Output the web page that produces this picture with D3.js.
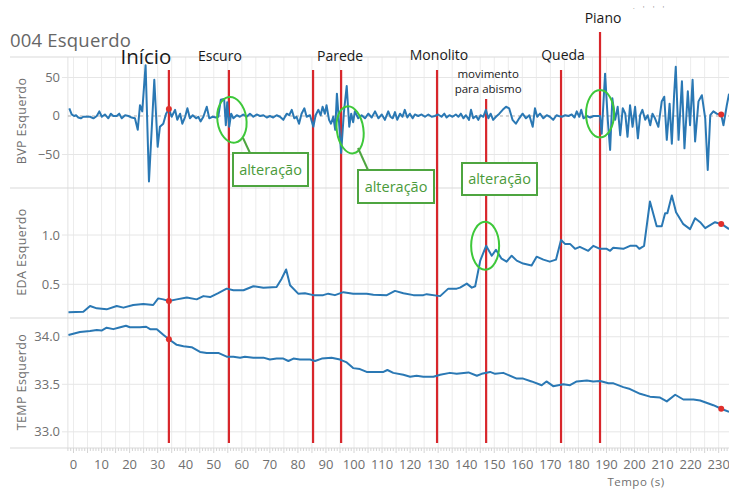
<!DOCTYPE html>
<html><head><meta charset="utf-8">
<script src="https://cdn.jsdelivr.net/npm/d3@7"></script>
<style>body{margin:0;background:#fff}svg{display:block}text{font-family:"Open Sans",sans-serif}</style>
</head><body><svg id="c" width="729" height="489"></svg>
<script>
// ---------------- DATA ----------------
const title = "004 Esquerdo";
const xTickValues = d3.range(0, 240, 10);
const bvpTicks = [50, 0, -50];
const edaTicks = [1.0, 0.5];
const tempTicks = [34.0, 33.5, 33.0];
const eventTimes = [34.0, 55.4, 85.4, 95.4, 129.6, 147.1, 173.8, 187.7];
const eventNames = ["Início", "Escuro", "", "Parede", "Monolito", "movimento|para abismo", "Queda", "Piano"];
const markerTimes = [34.0, 230.9];
const bvp = [[-1.5,10],[-0.65,2],[0.2,0],[0.9,1],[1.7,-2],[2.6,-3],[3.5,-1],[4.7,-1],[5.9,-1],[7.1,-3],[8.3,0],[9.2,6],[10.1,-1],[11.2,2],[12.4,-3],[13.3,3],[14.2,0],[15.4,0],[16.3,3],[17.2,-3],[18.4,1],[19.6,0],[20.7,-2],[21.9,-3],[22.9,-18],[23.7,14],[24.5,6],[25.7,66],[26.9,-85],[28.8,47],[30.0,-40],[30.8,-14],[32.0,-10],[33.0,3],[34.0,9],[35.0,-1],[36.2,8],[37.0,-5],[38.0,3],[38.8,-10],[39.8,-1],[40.6,10],[41.5,-3],[42.5,1],[43.7,-3],[44.5,-1],[45.3,-7],[46.3,-1],[47.5,12],[48.4,-3],[49.6,-1],[50.8,-2],[51.6,-1],[52.5,21],[53.7,22],[54.3,-12],[54.8,18],[55.5,-14],[56.2,3],[57.0,-3],[58.2,1],[59.3,-1],[60.5,2],[61.7,-1],[62.9,3],[64.1,-1],[65.3,2],[66.5,0],[67.7,1],[68.9,-2],[70.0,0],[71.2,-2],[72.4,1],[73.6,-1],[74.8,-5],[76.0,3],[76.9,1],[77.8,8],[78.7,-3],[79.5,-1],[80.4,-10],[81.3,3],[82.3,10],[83.1,-1],[84.3,1],[85.5,-14],[86.3,1],[87.3,8],[88.1,1],[88.8,12],[89.6,3],[90.2,14],[91.1,-5],[91.8,-10],[92.6,-1],[93.3,-18],[93.9,29],[94.6,-5],[95.4,-48],[96.4,5],[97.4,39],[98.3,-14],[99.0,3],[99.7,-8],[100.3,6],[101.5,-3],[102.7,1],[103.9,-3],[105.1,3],[106.3,-2],[107.5,6],[108.7,-3],[109.9,2],[111.0,-5],[112.2,6],[113.0,-1],[113.8,-3],[114.6,5],[115.4,-5],[116.4,3],[117.3,-1],[118.1,8],[119.0,-2],[119.9,3],[120.9,-3],[121.7,2],[122.9,0],[124.1,2],[125.3,-1],[126.5,2],[127.7,-1],[128.8,0],[130.0,2],[131.2,-1],[132.2,3],[133.0,-2],[134.0,1],[135.1,-1],[136.3,2],[137.2,-1],[138.1,3],[139.0,-3],[139.9,1],[141.0,-5],[141.7,8],[142.5,-3],[143.5,0],[144.3,-5],[145.1,1],[146.1,-1],[147.0,8],[147.9,-3],[148.7,3],[149.6,-5],[150.6,-1],[151.8,3],[153.0,8],[154.2,12],[155.3,10],[156.5,-5],[157.7,-10],[158.9,-3],[160.1,3],[161.3,-3],[162.5,1],[163.7,-14],[164.5,10],[165.3,-1],[166.3,3],[167.5,-3],[168.7,1],[169.8,-1],[171.0,-5],[172.2,1],[172.9,0],[174.1,-1],[175.3,1],[176.5,0],[177.6,2],[178.6,-2],[179.4,6],[180.3,-1],[181.0,8],[181.8,-3],[183.0,0],[184.2,-2],[185.4,0],[186.6,0],[187.7,0],[188.3,-23],[189.5,55],[190.5,-7],[191.3,-44],[192.1,23],[193.1,-5],[194.0,12],[194.9,-25],[195.8,10],[196.7,3],[197.5,-27],[198.4,14],[199.3,-14],[200.2,12],[201.2,-29],[202.0,1],[202.8,8],[203.8,-5],[204.7,1],[205.6,-12],[206.4,3],[207.3,-3],[208.5,-14],[209.7,19],[210.6,25],[211.5,-31],[212.5,16],[213.3,-36],[214.1,27],[214.7,64],[215.7,-31],[216.9,45],[217.8,-42],[219.0,32],[219.8,-12],[220.7,47],[221.6,-33],[222.8,19],[224.0,27],[225.2,-3],[226.1,-70],[227.0,1],[228.1,6],[229.3,3],[230.9,2],[231.7,-12],[232.9,14],[233.7,29]];
const eda = [[-1.8,0.216],[3.5,0.222],[5.9,0.28],[8.3,0.256],[11.8,0.246],[15.4,0.28],[17.8,0.263],[21.3,0.29],[24.9,0.30],[28.4,0.29],[30.2,0.357],[32.0,0.347],[34.0,0.33],[36.8,0.347],[40.4,0.367],[43.9,0.347],[46.3,0.38],[48.7,0.37],[51.6,0.41],[54.6,0.456],[57.0,0.44],[60.6,0.44],[64.1,0.48],[67.7,0.466],[72.4,0.473],[74.2,0.557],[75.8,0.65],[77.2,0.49],[80.1,0.405],[82.5,0.41],[85.5,0.39],[89.0,0.39],[90.8,0.405],[93.2,0.39],[96.2,0.42],[99.7,0.405],[104.5,0.405],[106.9,0.395],[111.7,0.39],[114.6,0.433],[117.6,0.41],[121.2,0.39],[124.7,0.39],[125.9,0.40],[130.7,0.38],[133.6,0.456],[136.6,0.456],[137.8,0.466],[140.2,0.507],[142.0,0.466],[143.2,0.48],[145.0,0.74],[147.1,0.89],[149.1,0.79],[150.6,0.85],[152.6,0.76],[154.4,0.73],[156.2,0.79],[158.0,0.74],[160.3,0.71],[163.3,0.69],[165.1,0.78],[167.5,0.75],[169.8,0.73],[172.0,0.75],[173.8,0.95],[175.2,0.91],[177.0,0.91],[178.8,0.86],[180.5,0.88],[183.5,0.84],[185.3,0.89],[187.7,0.86],[190.1,0.86],[191.3,0.84],[192.4,0.87],[196.0,0.86],[198.4,0.89],[200.7,0.89],[201.7,0.86],[203.4,0.89],[205.5,1.34],[207.9,1.09],[209.7,1.09],[210.9,1.22],[211.7,1.22],[213.3,1.40],[214.8,1.23],[217.4,1.11],[219.8,1.06],[221.6,1.17],[223.4,1.13],[225.2,1.07],[228.7,1.13],[231.1,1.11],[233.7,1.06]];
const temp = [[-1.8,34.018],[2.3,34.05],[5.9,34.06],[8.3,34.07],[10.0,34.065],[11.8,34.095],[14.2,34.08],[16.0,34.095],[18.7,34.116],[20.1,34.10],[23.7,34.10],[25.9,34.105],[27.3,34.08],[29.7,34.08],[32.0,34.02],[34.0,33.974],[36.8,33.915],[39.2,33.90],[42.1,33.89],[45.1,33.84],[47.5,33.83],[51.6,33.83],[54.6,33.79],[57.0,33.79],[59.4,33.78],[61.1,33.79],[64.1,33.78],[67.7,33.78],[70.0,33.76],[72.4,33.77],[74.8,33.77],[76.6,33.745],[78.4,33.77],[80.7,33.76],[84.3,33.76],[86.1,33.745],[88.5,33.77],[92.0,33.78],[95.0,33.76],[97.4,33.73],[99.7,33.67],[102.1,33.66],[104.5,33.63],[106.9,33.63],[110.5,33.63],[111.9,33.65],[114.0,33.62],[117.6,33.60],[120.0,33.58],[122.3,33.59],[124.7,33.58],[128.3,33.58],[130.7,33.60],[134.2,33.62],[136.6,33.61],[140.8,33.625],[143.8,33.59],[145.5,33.61],[148.5,33.63],[150.3,33.61],[153.2,33.62],[158.0,33.56],[160.3,33.56],[163.3,33.53],[166.9,33.49],[168.6,33.53],[171.0,33.48],[174.6,33.50],[177.0,33.49],[179.4,33.53],[183.0,33.54],[185.3,33.53],[187.7,33.535],[190.7,33.51],[192.5,33.51],[196.0,33.47],[198.4,33.45],[202.0,33.40],[205.5,33.37],[209.1,33.36],[211.5,33.32],[214.5,33.39],[217.4,33.34],[221.0,33.34],[223.4,33.33],[228.1,33.28],[231.1,33.24],[233.7,33.21]];
const annotationText = "alteração";

// ---------------- LAYOUT ----------------
const svg = d3.select("#c");
const BLUE = "#2a78b4", RED = "#d8262b", GREEN_BOX = "#4ea540", GREEN_ELL = "#3ec83a", GRID = "#ececec", AXIS_TXT = "#6f6f6f";
const x = d3.scaleLinear().domain([-2, 234]).range([67.9, 729.9]);
const panels = [
  {name: "BVP Esquerdo", data: bvp, y: d3.scaleLinear().domain([-93.5, 76.6]).range([188, 57]), ticks: bvpTicks, fmt: d3.format("d"), labelY: 121},
  {name: "EDA Esquerdo", data: eda, y: d3.scaleLinear().domain([0.158, 1.477]).range([318, 188]), ticks: edaTicks, fmt: d3.format(".1f"), labelY: 252},
  {name: "TEMP Esquerdo", data: temp, y: d3.scaleLinear().domain([32.83, 34.197]).range([448, 318]), ticks: tempTicks, fmt: d3.format(".1f"), labelY: 382}
];

// vertical grid every 5 s
svg.append("g").selectAll("line").data(d3.range(0, 235, 5)).join("line")
  .attr("x1", d => x(d)).attr("x2", d => x(d)).attr("y1", 57).attr("y2", 448)
  .attr("stroke", GRID).attr("stroke-width", 1);
svg.append("line").attr("x1", x(-2)).attr("x2", x(-2)).attr("y1", 57).attr("y2", 448).attr("stroke", "#e2e2e2");

// panel boundaries
[57, 188, 318, 448].forEach(yy => svg.append("line").attr("x1", 10).attr("x2", 729).attr("y1", yy).attr("y2", yy).attr("stroke", "#d9d9d9").attr("stroke-width", 1.2));

panels.forEach((p, i) => {
  const g = svg.append("g");
  g.selectAll("line.h").data(p.ticks).join("line")
    .attr("x1", 62).attr("x2", 729).attr("y1", d => p.y(d)).attr("y2", d => p.y(d))
    .attr("stroke", (d) => (i === 0 && d === 0) ? "none" : "#e6e6e6");
  g.selectAll("text.t").data(p.ticks).join("text")
    .attr("x", 60).attr("y", d => p.y(d) + 4.5).attr("text-anchor", "end")
    .attr("font-size", 13).attr("fill", AXIS_TXT).text(d => p.fmt(d));
  g.append("text").attr("transform", `translate(26,${p.labelY}) rotate(-90)`)
    .attr("text-anchor", "middle").attr("font-size", 12.5).attr("letter-spacing", 0.4)
    .attr("fill", AXIS_TXT).text(p.name);
  if (i === 0) {
    g.append("line").attr("x1", x(-2)).attr("x2", 729).attr("y1", p.y(0)).attr("y2", p.y(0))
      .attr("stroke", "#aaaaaa").attr("stroke-dasharray", "3,3").attr("stroke-width", 1);
  }
});

// x axis ticks and labels
svg.append("g").selectAll("line").data(d3.range(-2, 234, 1)).join("line")
  .attr("x1", d => x(d)).attr("x2", d => x(d)).attr("y1", 448).attr("y2", d => d % 5 === 0 ? 453 : 451)
  .attr("stroke", "#d4d4d4");
svg.append("g").selectAll("text").data(xTickValues).join("text")
  .attr("x", d => x(d)).attr("y", 469).attr("text-anchor", "middle")
  .attr("font-size", 13).attr("fill", AXIS_TXT).text(d => d);
svg.append("text").attr("x", 636).attr("y", 486).attr("text-anchor", "middle")
  .attr("font-size", 11.5).attr("letter-spacing", 0.5).attr("fill", AXIS_TXT).text("Tempo (s)");

// title
svg.append("text").attr("x", 10).attr("y", 47).attr("font-size", 18.5).attr("letter-spacing", 0.2)
  .attr("fill", "#666").text(title);

// event red lines
const eventTop = [70, 70, 70, 70, 70, 99, 70, 32];
svg.append("g").selectAll("line").data(eventTimes).join("line")
  .attr("x1", d => x(d)).attr("x2", d => x(d)).attr("y1", (d, i) => eventTop[i]).attr("y2", 443)
  .attr("stroke", RED).attr("stroke-width", 2.2);

// data lines
panels.forEach(p => {
  svg.append("path").datum(p.data)
    .attr("d", d3.line().x(d => x(d[0])).y(d => p.y(d[1])))
    .attr("fill", "none").attr("stroke", BLUE).attr("stroke-width", 2).attr("stroke-linejoin", "round");
});

// red markers
function interp(data, t) {
  const i = d3.bisector(d => d[0]).left(data, t);
  if (i <= 0) return data[0][1];
  if (i >= data.length) return data[data.length - 1][1];
  const a = data[i - 1], b = data[i];
  return a[1] + (b[1] - a[1]) * (t - a[0]) / (b[0] - a[0]);
}
panels.forEach(p => {
  markerTimes.forEach(t => {
    svg.append("circle").attr("cx", x(t)).attr("cy", p.y(interp(p.data, t))).attr("r", 3).attr("fill", "#e0302c");
  });
});

// event labels
const labelLayout = [
  {dx: -23, y: 64, size: 20.5},
  {dx: -9, y: 61, size: 14},
  null,
  {dx: -1, y: 61, size: 14},
  {dx: 2, y: 60, size: 14},
  {dx: 2, y: 78, size: 11.5, lh: 15},
  {dx: 2, y: 60, size: 14},
  {dx: 3, y: 23, size: 14}
];
eventNames.forEach((n, i) => {
  const L = labelLayout[i];
  if (!n || !L) return;
  const t = svg.append("text").attr("text-anchor", "middle").attr("font-size", L.size).attr("fill", "#1a1a1a");
  n.split("|").forEach((line, k) => {
    t.append("tspan").attr("x", x(eventTimes[i]) + L.dx).attr("y", L.y + k * (L.lh || 0)).text(line);
  });
});
svg.append("text").attr("x", 650).attr("y", 11).attr("text-anchor", "middle").attr("font-size", 8)
  .attr("fill", "#999").attr("letter-spacing", 3).text("· ' ' '");

// green annotations
const ellipses = [
  {t: 55.4, panel: 0, v: -5, dx: 3, rx: 14.5, ry: 23, rot: -8},
  {t: 95.4, panel: 0, v: -18, dx: 9, rx: 13.3, ry: 23.7, rot: -8},
  {t: 187.7, panel: 0, v: 3, dx: 0, rx: 14, ry: 23.7, rot: 0},
  {t: 147.1, panel: 1, v: 0.89, dx: -1, rx: 14, ry: 24, rot: 0}
];
ellipses.forEach(e => {
  svg.append("ellipse").attr("cx", 0).attr("cy", 0).attr("rx", e.rx).attr("ry", e.ry)
    .attr("transform", `translate(${x(e.t) + e.dx},${panels[e.panel].y(e.v)}) rotate(${e.rot})`)
    .attr("fill", "none").attr("stroke", GREEN_ELL).attr("stroke-width", 2);
});
const connectors = [[243, 138, 250, 153], [358, 148, 368, 170]];
connectors.forEach(c => svg.append("line").attr("x1", c[0]).attr("y1", c[1]).attr("x2", c[2]).attr("y2", c[3])
  .attr("stroke", GREEN_BOX).attr("stroke-width", 2));
const boxes = [[233, 153, 75, 33], [358, 170, 76, 33], [462, 163, 75, 32]];
boxes.forEach(b => {
  svg.append("rect").attr("x", b[0]).attr("y", b[1]).attr("width", b[2]).attr("height", b[3])
    .attr("fill", "#fff").attr("stroke", GREEN_BOX).attr("stroke-width", 2);
  svg.append("text").attr("x", b[0] + b[2] / 2).attr("y", b[1] + b[3] / 2 + 5)
    .attr("text-anchor", "middle").attr("font-size", 14.5).attr("fill", "#4a9a3a").text(annotationText);
});
</script></body></html>
